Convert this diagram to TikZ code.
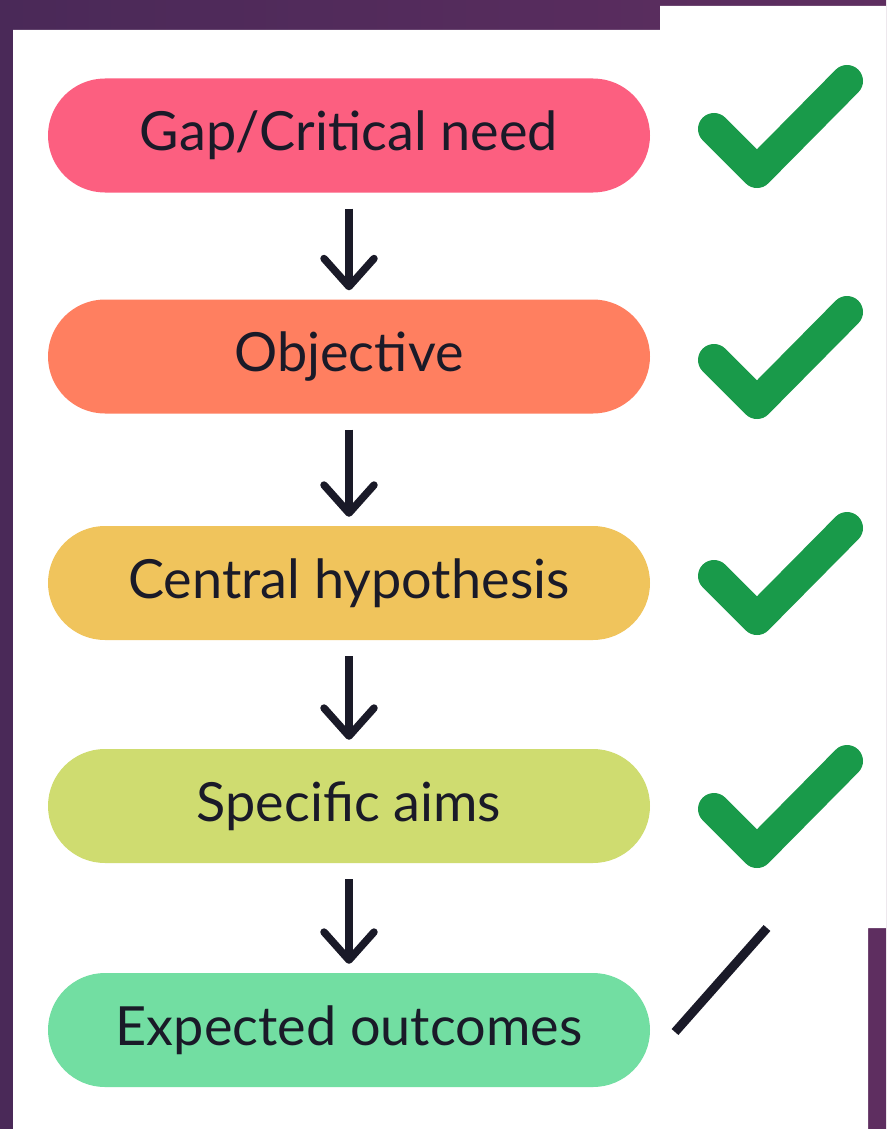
\documentclass[tikz,border=0pt]{standalone}
\usepackage{fontspec}
\setmainfont{Lato}
\usetikzlibrary{arrows.meta}
\definecolor{bgA}{HTML}{4A2958}
\definecolor{bgB}{HTML}{5E2E60}
\definecolor{pinkP}{HTML}{FC5F80}
\definecolor{orangeP}{HTML}{FF7F60}
\definecolor{yellowP}{HTML}{F0C45C}
\definecolor{limeP}{HTML}{CFDC70}
\definecolor{greenP}{HTML}{72DEA2}
\definecolor{checkG}{HTML}{199A4A}
\definecolor{inkC}{HTML}{1A1A28}
\tikzset{
  pill/.style={draw=none, rectangle, rounded corners=57pt, minimum width=602pt,
    minimum height=114pt, inner sep=0pt, text=inkC,
    font=\fontsize{54}{64}\selectfont},
  flowarrow/.style={draw=inkC, line width=7.5pt,
    -{Straight Barb[length=28pt,width=50pt,line cap=round,line join=round]},
    shorten <=16pt, shorten >=9pt},
  tick/.style={draw=checkG, line width=32pt, line cap=round, line join=round}
}
\begin{document}
\begin{tikzpicture}[x=1pt,y=-1pt]
\useasboundingbox (0,0) rectangle (886,1129);
\shade[left color=bgA, right color=bgB] (0,0) rectangle (886,1129);
\fill[white] (13,30) -- (660,30) -- (660,6) -- (886,6) -- (886,928) -- (868,928) -- (868,1129) -- (13,1129) -- cycle;

\node[pill, fill=pinkP]   (p1) at (349,135.5) {Gap/Critical need};
\node[pill, fill=orangeP] (p2) at (349,356.5) {Objective};
\node[pill, fill=yellowP] (p3) at (349,583) {Central hypothesis};
\node[pill, fill=limeP]   (p4) at (349,806) {Specific aims};
\node[pill, fill=greenP]  (p5) at (349,1030) {Expected outcomes};

\draw[flowarrow] (p1.south) -- (p2.north);
\draw[flowarrow] (p2.south) -- (p3.north);
\draw[flowarrow] (p3.south) -- (p4.north);
\draw[flowarrow] (p4.south) -- (p5.north);

\foreach \dy in {0,231,447,680}{
  \draw[tick] (714,129+\dy) -- (757,172+\dy) -- (847,81+\dy);
}
\draw[draw=inkC, line width=9pt] (675,1032) -- (767,928);
\end{tikzpicture}
\end{document}
